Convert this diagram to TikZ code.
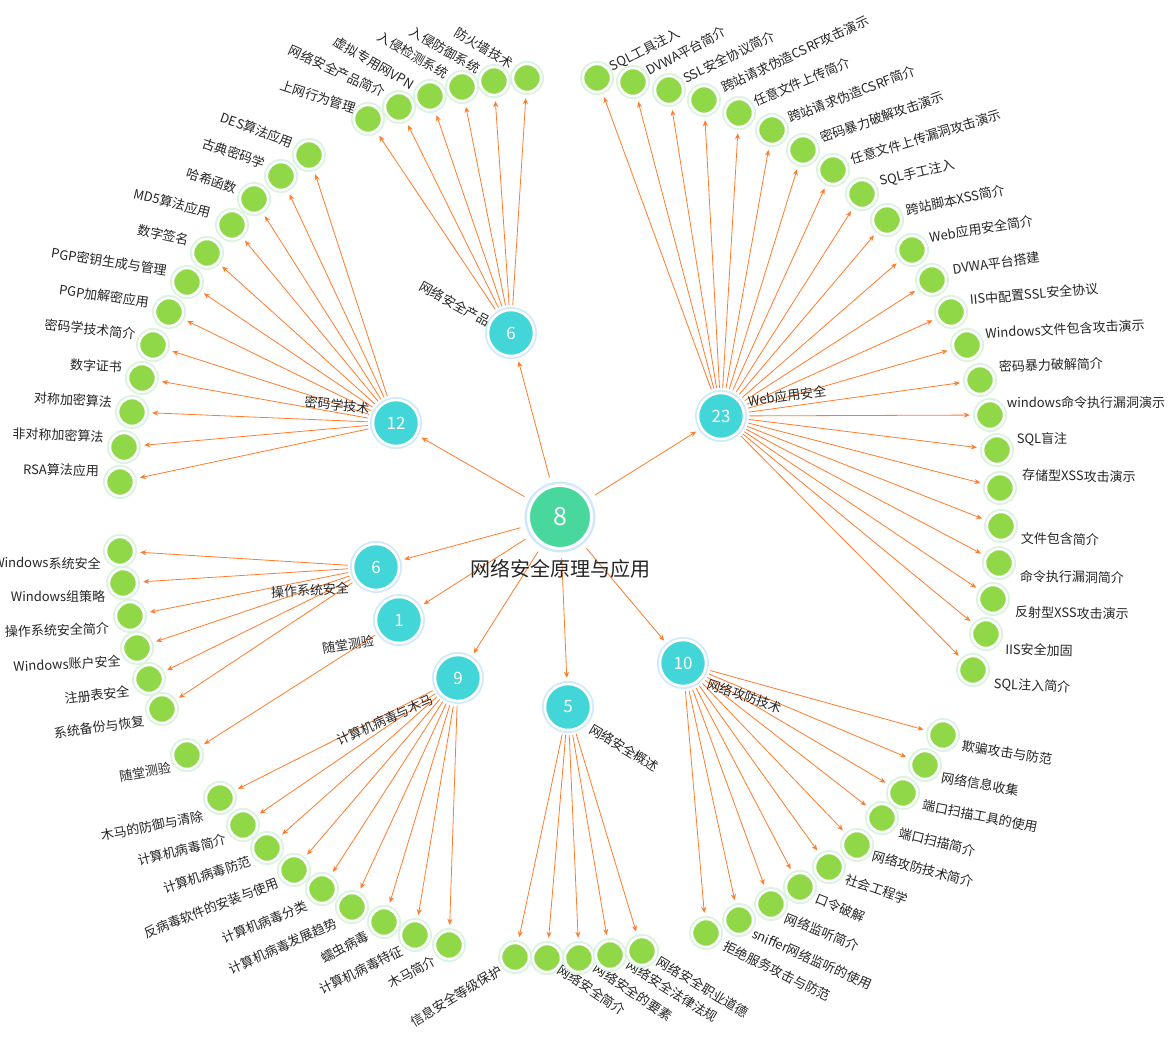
\documentclass[tikz,border=0pt]{standalone}
\usepackage{fontspec}
\setmainfont{Noto Sans CJK SC}
\usepackage{tikz}
\usetikzlibrary{arrows.meta, backgrounds}

\definecolor{linkorange}{RGB}{255,124,44}
\definecolor{leafgreen}{RGB}{145,216,72}
\definecolor{leafhalo}{RGB}{216,244,222}
\definecolor{hubcyan}{RGB}{67,214,216}
\definecolor{hubhalo}{RGB}{208,232,252}
\definecolor{rootgreen}{RGB}{72,216,158}

\begin{document}
\begin{tikzpicture}[
    x=1pt, y=-1pt,
    leaf/.style={circle, fill=leafgreen, draw=white, line width=2.5pt, minimum size=28pt, inner sep=0pt, preaction={draw=leafhalo, line width=6pt}},
    hub/.style={circle, fill=hubcyan, draw=white, line width=2.5pt, minimum size=46pt, inner sep=0pt, text=white, font=\fontsize{17}{17}\selectfont, preaction={draw=hubhalo, line width=6pt}},
    root/.style={circle, fill=rootgreen, draw=white, line width=3pt, minimum size=63pt, inner sep=0pt, text=white, font=\fontsize{25}{25}\selectfont, preaction={draw=hubhalo, line width=8pt}},
    txt/.style={font=\fontsize{13}{15}\selectfont, text=black!85, inner sep=0pt},
    arrow/.style={-{Stealth[length=6pt, width=5pt]}, linkorange, line width=0.8pt, shorten <=4pt, shorten >=5pt}
]
\useasboundingbox (0,0) rectangle (1174,1038);

% Centre and topics
\node[root] (root) at (560,517) {8};
\node[txt, font=\fontsize{20}{22}\selectfont] (roottxt) at (560,569) {网络安全原理与应用};

\node[hub] (prod) at (511,333) {6};
\node[hub] (web) at (721,416) {23};
\node[hub] (crypt) at (396,423) {12};
\node[hub] (ossec) at (376,567) {6};
\node[hub] (quiz) at (399,620) {1};
\node[hub] (virus) at (458,678) {9};
\node[hub] (intro) at (568,707) {5};
\node[hub] (attack) at (683,663) {10};

\node[txt, rotate=-29] (prodtxt) at (455,304) {网络安全产品};
\node[txt, rotate=8] (webtxt) at (787,396) {Web应用安全};
\node[txt, rotate=-6] (crypttxt) at (337,405) {密码学技术};
\node[txt, rotate=3] (ossectxt) at (310,590) {操作系统安全};
\node[txt, rotate=9] (quiztxt) at (348,645) {随堂测验};
\node[txt, rotate=24] (virustxt) at (385,720) {计算机病毒与木马};
\node[txt, rotate=-31] (introtxt) at (624,748) {网络安全概述};
\node[txt, rotate=-19] (attacktxt) at (745,696) {网络攻防技术};

% Network security products
\node[leaf] (p1) at (368,119) {}; \node[txt, rotate=-18] (p1t) at (318,97) {上网行为管理};
\node[leaf] (p2) at (399,107) {}; \node[txt, rotate=-25] (p2t) at (337,71) {网络安全产品简介};
\node[leaf] (p3) at (430,96) {};  \node[txt, rotate=-30] (p3t) at (374,63) {虚拟专用网VPN};
\node[leaf] (p4) at (462,87) {};  \node[txt, rotate=-30] (p4t) at (413,55) {入侵检测系统};
\node[leaf] (p5) at (494,81) {};  \node[txt, rotate=-30] (p5t) at (445,50) {入侵防御系统};
\node[leaf] (p6) at (527,78) {};  \node[txt, rotate=-31] (p6t) at (484,48) {防火墙技术};

% Web application security
\node[leaf] (w1) at (597,78) {};   \node[txt, rotate=27] (w1t) at (645,50) {SQL工具注入};
\node[leaf] (w2) at (633,82) {};   \node[txt, rotate=28] (w2t) at (686,51) {DVWA平台简介};
\node[leaf] (w3) at (669,90) {};   \node[txt, rotate=26] (w3t) at (729,57) {SSL安全协议简介};
\node[leaf] (w4) at (704,100) {};  \node[txt, rotate=25] (w4t) at (795,54) {跨站请求伪造CSRF攻击演示};
\node[leaf] (w5) at (739,113) {};  \node[txt, rotate=23] (w5t) at (802,82) {任意文件上传简介};
\node[leaf] (w6) at (772,130) {};  \node[txt, rotate=21] (w6t) at (852,94) {跨站请求伪造CSRF简介};
\node[leaf] (w7) at (803,150) {};  \node[txt, rotate=19] (w7t) at (882,117) {密码暴力破解攻击演示};
\node[leaf] (w8) at (833,170) {};  \node[txt, rotate=17] (w8t) at (926,137) {任意文件上传漏洞攻击演示};
\node[leaf] (w9) at (862,194) {};  \node[txt, rotate=13] (w9t) at (917,173) {SQL手工注入};
\node[leaf] (w10) at (887,220) {}; \node[txt, rotate=12] (w10t) at (955,200) {跨站脚本XSS简介};
\node[leaf] (w11) at (912,250) {}; \node[txt, rotate=9] (w11t) at (981,229) {Web应用安全简介};
\node[leaf] (w12) at (932,280) {}; \node[txt, rotate=8] (w12t) at (996,263) {DVWA平台搭建};
\node[leaf] (w13) at (951,312) {}; \node[txt, rotate=5] (w13t) at (1034,294) {IIS中配置SSL安全协议};
\node[leaf] (w14) at (967,345) {}; \node[txt, rotate=3] (w14t) at (1065,329) {Windows文件包含攻击演示};
\node[leaf] (w15) at (980,380) {}; \node[txt, rotate=2] (w15t) at (1051,365) {密码暴力破解简介};
\node[leaf] (w16) at (990,415) {}; \node[txt] (w16t) at (1086,403) {windows命令执行漏洞演示};
\node[leaf] (w17) at (997,450) {}; \node[txt] (w17t) at (1042,439) {SQL盲注};
\node[leaf] (w18) at (1000,488) {}; \node[txt, rotate=-1] (w18t) at (1079,476) {存储型XSS攻击演示};
\node[leaf] (w19) at (1001,526) {}; \node[txt, rotate=-1] (w19t) at (1060,539) {文件包含简介};
\node[leaf] (w20) at (999,563) {}; \node[txt, rotate=-1] (w20t) at (1072,577) {命令执行漏洞简介};
\node[leaf] (w21) at (993,599) {}; \node[txt, rotate=-1] (w21t) at (1072,613) {反射型XSS攻击演示};
\node[leaf] (w22) at (986,634) {}; \node[txt, rotate=-1] (w22t) at (1039,650) {IIS安全加固};
\node[leaf] (w23) at (973,670) {}; \node[txt, rotate=-3] (w23t) at (1032,686) {SQL注入简介};

% Cryptography
\node[leaf] (c1) at (309,155) {};  \node[txt, rotate=-20] (c1t) at (257,130) {DES算法应用};
\node[leaf] (c2) at (281,176) {};  \node[txt, rotate=-19] (c2t) at (234,153) {古典密码学};
\node[leaf] (c3) at (254,199) {};  \node[txt, rotate=-18] (c3t) at (212,181) {哈希函数};
\node[leaf] (c4) at (232,225) {};  \node[txt, rotate=-14] (c4t) at (172,203) {MD5算法应用};
\node[leaf] (c5) at (207,253) {};  \node[txt, rotate=-12] (c5t) at (163,235) {数字签名};
\node[leaf] (c6) at (187,282) {};  \node[txt, rotate=-9] (c6t) at (109,262) {PGP密钥生成与管理};
\node[leaf] (c7) at (169,312) {};  \node[txt, rotate=-8] (c7t) at (104,296) {PGP加解密应用};
\node[leaf] (c8) at (153,345) {};  \node[txt, rotate=-6] (c8t) at (90,329) {密码学技术简介};
\node[leaf] (c9) at (142,378) {};  \node[txt, rotate=-3] (c9t) at (96,366) {数字证书};
\node[leaf] (c10) at (132,412) {}; \node[txt, rotate=-3] (c10t) at (73,400) {对称加密算法};
\node[leaf] (c11) at (124,447) {}; \node[txt, rotate=-2] (c11t) at (58,435) {非对称加密算法};
\node[leaf] (c12) at (120,482) {}; \node[txt, rotate=-1] (c12t) at (61,470) {RSA算法应用};

% Operating system security and quiz
\node[leaf] (o1) at (120,551) {}; \node[txt, rotate=-1] (o1t) at (47,563) {Windows系统安全};
\node[leaf] (o2) at (123,583) {}; \node[txt] (o2t) at (58,597) {Windows组策略};
\node[leaf] (o3) at (130,616) {}; \node[txt, rotate=2] (o3t) at (57,630) {操作系统安全简介};
\node[leaf] (o4) at (137,648) {}; \node[txt, rotate=3] (o4t) at (67,664) {Windows账户安全};
\node[leaf] (o5) at (149,679) {}; \node[txt, rotate=7] (o5t) at (97,695) {注册表安全};
\node[leaf] (o6) at (162,709) {}; \node[txt, rotate=8] (o6t) at (99,727) {系统备份与恢复};
\node[leaf] (q1) at (187,755) {}; \node[txt, rotate=10] (q1t) at (145,772) {随堂测验};

% Viruses and trojans
\node[leaf] (v1) at (220,798) {}; \node[txt, rotate=11] (v1t) at (152,826) {木马的防御与清除};
\node[leaf] (v2) at (243,825) {}; \node[txt, rotate=14] (v2t) at (182,850) {计算机病毒简介};
\node[leaf] (v3) at (267,848) {}; \node[txt, rotate=18] (v3t) at (207,875) {计算机病毒防范};
\node[leaf] (v4) at (294,870) {}; \node[txt, rotate=21] (v4t) at (211,908) {反病毒软件的安装与使用};
\node[leaf] (v5) at (322,889) {}; \node[txt, rotate=22] (v5t) at (265,922) {计算机病毒分类};
\node[leaf] (v6) at (352,907) {}; \node[txt, rotate=24] (v6t) at (283,946) {计算机病毒发展趋势};
\node[leaf] (v7) at (384,922) {}; \node[txt, rotate=28] (v7t) at (345,947) {蠕虫病毒};
\node[leaf] (v8) at (415,935) {}; \node[txt, rotate=26] (v8t) at (361,970) {计算机病毒特征};
\node[leaf] (v9) at (449,945) {}; \node[txt, rotate=29] (v9t) at (412,972) {木马简介};

% Overview
\node[leaf] (s1) at (515,957) {}; \node[txt, rotate=31] (s1t) at (456,996) {信息安全等级保护};
\node[leaf] (s2) at (547,958) {}; \node[txt, rotate=-34] (s2t) at (592,990) {网络安全简介};
\node[leaf] (s3) at (579,958) {}; \node[txt, rotate=-34] (s3t) at (633,992) {网络安全的要素};
\node[leaf] (s4) at (610,955) {}; \node[txt, rotate=-32] (s4t) at (672,991) {网络安全法律法规};
\node[leaf] (s5) at (642,951) {}; \node[txt, rotate=-31] (s5t) at (703,987) {网络安全职业道德};

% Attack and defence
\node[leaf] (a1) at (943,735) {};  \node[txt, rotate=-9] (a1t) at (1007,753) {欺骗攻击与防范};
\node[leaf] (a2) at (925,765) {};  \node[txt, rotate=-10] (a2t) at (980,784) {网络信息收集};
\node[leaf] (a3) at (903,793) {};  \node[txt, rotate=-11] (a3t) at (980,816) {端口扫描工具的使用};
\node[leaf] (a4) at (882,818) {};  \node[txt, rotate=-14] (a4t) at (937,842) {端口扫描简介};
\node[leaf] (a5) at (857,845) {};  \node[txt, rotate=-15] (a5t) at (923,869) {网络攻防技术简介};
\node[leaf] (a6) at (829,867) {};  \node[txt, rotate=-19] (a6t) at (877,889) {社会工程学};
\node[leaf] (a7) at (800,887) {};  \node[txt, rotate=-22] (a7t) at (840,908) {口令破解};
\node[leaf] (a8) at (771,904) {};  \node[txt, rotate=-22] (a8t) at (822,932) {网络监听简介};
\node[leaf] (a9) at (739,920) {};  \node[txt, rotate=-24] (a9t) at (812,959) {sniffer网络监听的使用};
\node[leaf] (a10) at (706,933) {}; \node[txt, rotate=-26] (a10t) at (777,971) {拒绝服务攻击与防范};

% Links
\begin{scope}[on background layer]
\fill[white] (0,0) rectangle (1174,1038);
\foreach \h in {prod,web,crypt,ossec,quiz,virus,intro,attack}
    \draw[arrow, shorten <=8pt] (root) -- (\h);
\foreach \i in {1,...,6} \draw[arrow] (prod) -- (p\i);
\foreach \i in {1,...,23} \draw[arrow] (web) -- (w\i);
\foreach \i in {1,...,12} \draw[arrow] (crypt) -- (c\i);
\foreach \i in {1,...,6} \draw[arrow] (ossec) -- (o\i);
\draw[arrow] (quiz) -- (q1);
\foreach \i in {1,...,9} \draw[arrow] (virus) -- (v\i);
\foreach \i in {1,...,5} \draw[arrow] (intro) -- (s\i);
\foreach \i in {1,...,10} \draw[arrow] (attack) -- (a\i);
\end{scope}

\end{tikzpicture}
\end{document}
